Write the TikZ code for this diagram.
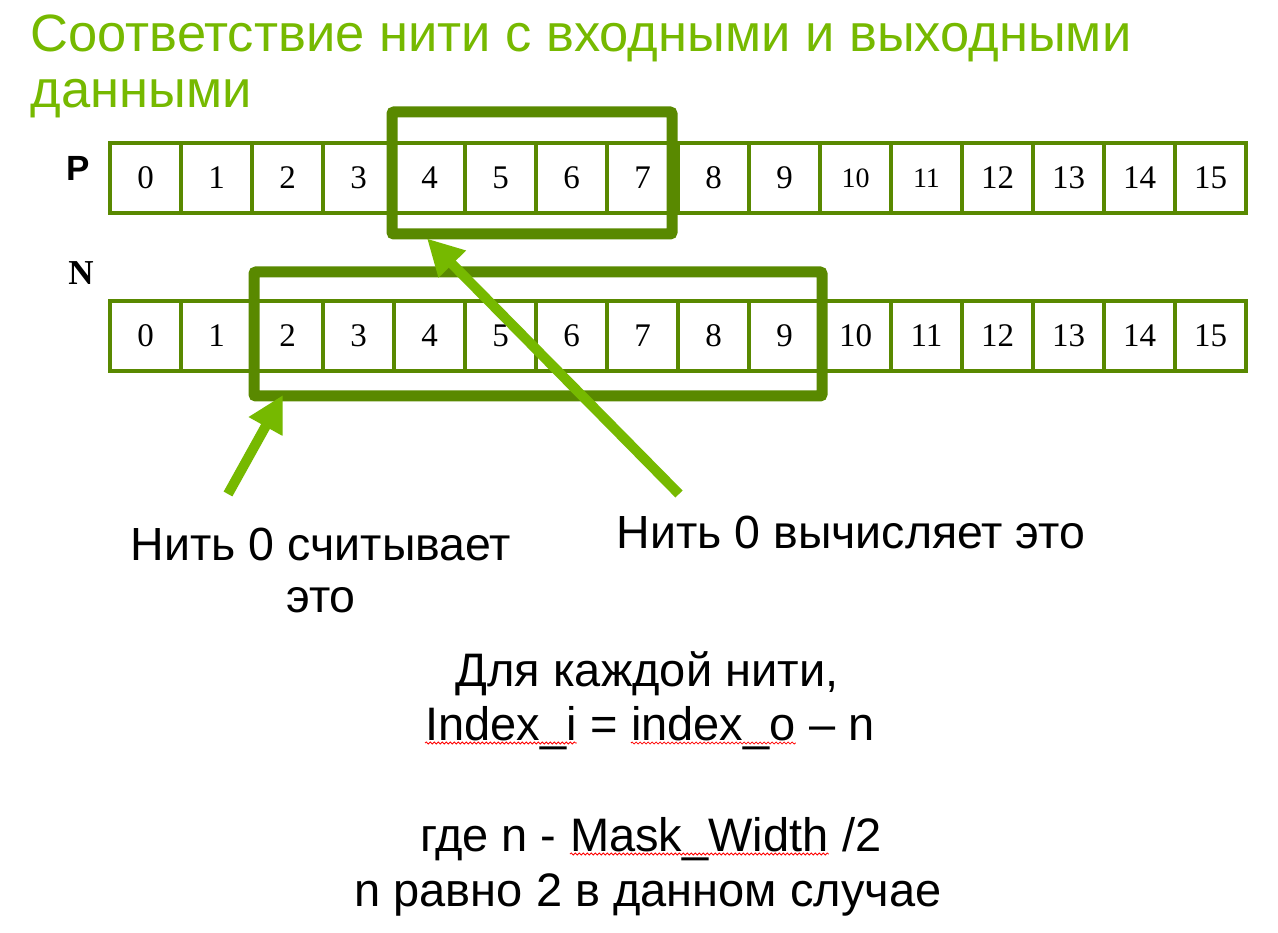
\documentclass[tikz,border=0pt]{standalone}
\usepackage{fontspec}
\usepackage{xcolor}
\usepackage{tikz}
\usetikzlibrary{arrows.meta,decorations.pathmorphing}
\setmainfont{Liberation Serif}
\newfontfamily\arialfont{Liberation Sans}
\definecolor{cellgreen}{RGB}{89,137,0}
\definecolor{nvgreen}{RGB}{118,185,0}

\begin{document}
\begin{tikzpicture}[x=1pt,y=-1pt,
  cell/.style={draw=cellgreen,line width=4,minimum width=71,minimum height=70,inner sep=0,font=\fontsize{33}{36}\selectfont},
  bigbox/.style={draw=cellgreen,line width=11,rounded corners=2,inner sep=0},
  ptr/.style={nvgreen,line width=10,-{Triangle[length=36pt,width=36pt]}},
  saytext/.style={font=\arialfont\fontsize{46.5}{52}\selectfont},
  bodytext/.style={font=\arialfont\fontsize{47}{55}\selectfont,inner sep=0},
  spellwave/.style={red,line width=0.8,decorate,decoration={snake,segment length=4pt,amplitude=1pt}}]
\fill[white] (0,0) rectangle (1278,933);
\node[anchor=base west,align=left,text=nvgreen,font=\arialfont\fontsize{52.5}{56}\selectfont] (title) at (27,108) {Соответствие нити с входными и выходными\\данными};
\node[font=\arialfont\bfseries\fontsize{35}{40}\selectfont] (plabel) at (78,168) {P};
\node[font=\bfseries\fontsize{35}{40}\selectfont] (nlabel) at (81,273) {N};
\foreach \i in {0,...,15}{
  \node[cell] (p\i) at (145.5+71*\i,178) {\ifnum\i>9 \ifnum\i<12 \fontsize{28}{30}\selectfont\fi\fi\i};
  \node[cell] (n\i) at (145.5+71*\i,336) {\i};
}
\node[bigbox,minimum width=280,minimum height=122] (boxp) at (532,173) {};
\node[bigbox,minimum width=568,minimum height=124] (boxn) at (538,334) {};
\coordinate (readtail) at (228,494);
\coordinate (calctail) at (679,494);
\draw[ptr] (readtail) -- ([xshift=34.5pt,yshift=6.5pt]boxn.south west);
\draw[ptr] (calctail) -- ([xshift=40.5pt,yshift=1pt]boxp.south west);
\node[saytext,anchor=base,align=center] (readlbl) at (321,612) {Нить 0 считывает\\это};
\node[saytext,anchor=base] (calclbl) at (851,548) {Нить 0 вычисляет это};
\node[bodytext,anchor=base] (each) at (647,686) {Для каждой нити,};
\node[bodytext,anchor=base west] (idxi) at (425,740) {Index\_i};
\node[bodytext,anchor=base west] (eqsign) at (idxi.base east) {\ =\ \null};
\node[bodytext,anchor=base west] (idxo) at (eqsign.base east) {index\_o};
\node[bodytext,anchor=base west] (minusn) at (idxo.base east) {\ – n};
\node[bodytext,anchor=base west] (where) at (420,851) {где n -\ \null};
\node[bodytext,anchor=base west] (maskw) at (where.base east) {Mask\_Width};
\node[bodytext,anchor=base west] (half) at (maskw.base east) {\ /2};
\node[bodytext,anchor=base] (equals) at (648,906) {n равно 2 в данном случае};
\draw[spellwave] ([yshift=-3pt]idxi.base west) -- ([yshift=-3pt]idxi.base east);
\draw[spellwave] ([yshift=-3pt]idxo.base west) -- ([yshift=-3pt]idxo.base east);
\draw[spellwave] ([yshift=-3pt]maskw.base west) -- ([yshift=-3pt]maskw.base east);
\end{tikzpicture}
\end{document}
